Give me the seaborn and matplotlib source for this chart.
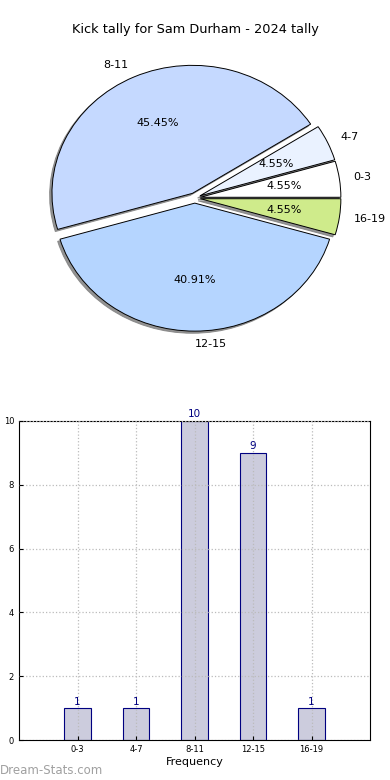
import matplotlib
matplotlib.use("Agg")
import matplotlib.pyplot as plt
import seaborn as sns
import pandas as pd

# data
categories = ["0-3", "4-7", "8-11", "12-15", "16-19"]
counts = [1, 1, 10, 9, 1]
pie_colors = ["#ffffff", "#eaf2ff", "#c5d9ff", "#b5d5ff", "#cfeb8b"]
explode = [0.04, 0.04, 0.04, 0.04, 0.04]
title = "Kick tally for Sam Durham - 2024 tally"

plt.rcParams['font.family'] = ['DejaVu Sans']

fig = plt.figure(figsize=(3.9, 7.8), dpi=100)

# ---- pie ----
ax1 = fig.add_axes([0, 0.5, 1, 0.5])
wedges, texts, autotexts = ax1.pie(
    counts, labels=categories, colors=pie_colors, explode=explode,
    autopct="%.2f%%", startangle=0,
    shadow=dict(ox=-0.012, oy=-0.012, facecolor="#808080",
                edgecolor="#808080", alpha=0.85),
    wedgeprops=dict(edgecolor="black", linewidth=0.7),
    textprops=dict(fontsize=8))
ax1.set_aspect("auto")
cx, cy, rx, ry = 194.8, 198.0, 140.5, 128.0
ax1.set_xlim(-cx / rx, (390 - cx) / rx)
ax1.set_ylim(-(390 - cy) / ry, cy / ry)
ax1.axis("off")
fig.text(0.5, 1 - 30 / 780, title, ha="center", va="center", fontsize=9.3)

# ---- bars ----
ax2 = fig.add_axes([19 / 390, 40 / 780, 351 / 390, 319 / 780])
df = pd.DataFrame({"range": categories, "count": counts})
sns.barplot(data=df, x="range", y="count", ax=ax2, width=0.45,
            color="#ccccdd", edgecolor="#000080", linewidth=0.8, saturation=1)
ax2.set_xlim(-1, 5)
ax2.set_ylim(0, 10)
ax2.set_yticks([0, 2, 4, 6, 8, 10])
ax2.grid(True, linestyle=":", color="#bbbbbb", linewidth=0.9)
ax2.set_axisbelow(False)
for s in ax2.spines.values():
    s.set_color("black")
    s.set_linewidth(0.8)
ax2.tick_params(labelsize=6, direction="in", length=3)
for i, v in enumerate(counts):
    ax2.text(i, v + 0.05, str(v), ha="center", va="bottom", color="#000080", fontsize=7.5)
ax2.set_xlabel("Frequency", fontsize=8, labelpad=2)
ax2.set_ylabel("Distribution", fontsize=8)
ax2.yaxis.set_label_coords(-0.06, 0.5)

fig.text(0.0, 1 - 771 / 780, "Dream-Stats.com", ha="left", va="center",
         fontsize=8.5, color="#a0a0a0")

fig.savefig("out.png", dpi=100)
